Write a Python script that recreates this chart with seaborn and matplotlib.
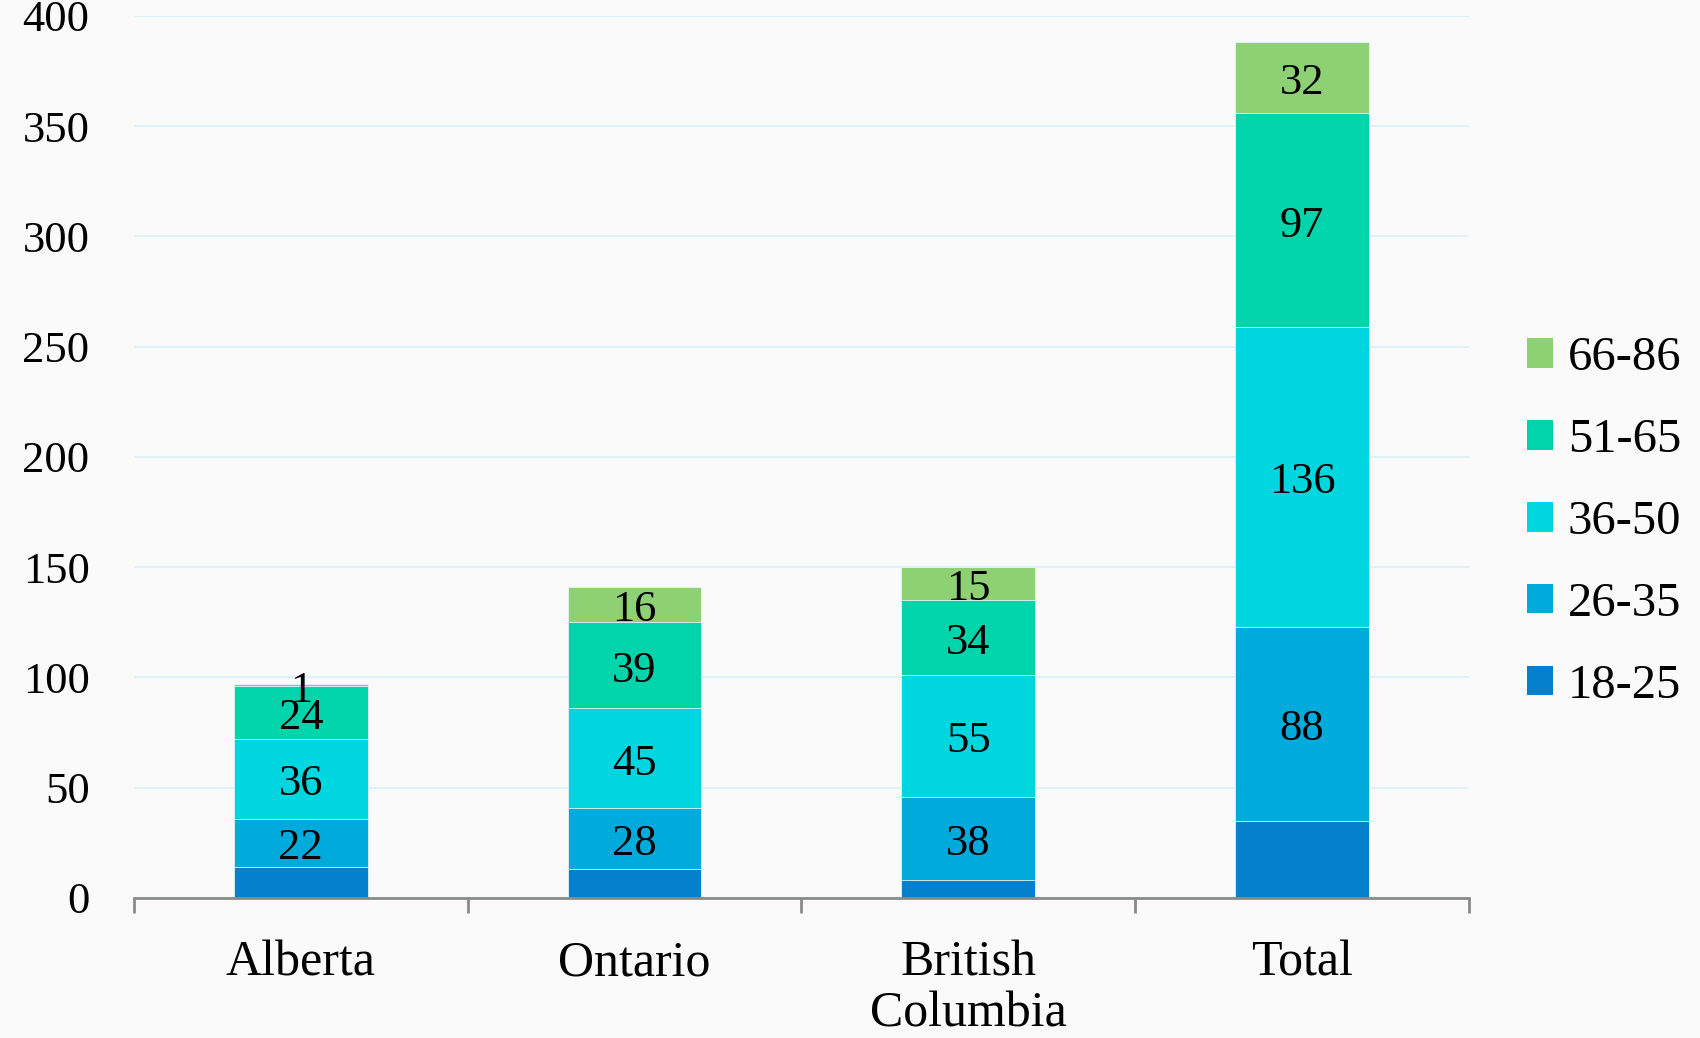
import matplotlib
matplotlib.use("Agg")
import matplotlib.pyplot as plt
import matplotlib.patches as mpatches
import numpy as np
import seaborn as sns

# Respondents by province and age group
regions = ["Alberta", "Ontario", "British\nColumbia", "Total"]
age_groups = ["18-25", "26-35", "36-50", "51-65", "66-86"]
age_18_25 = [14, 13, 8, 35]
age_26_35 = [22, 28, 38, 88]
age_36_50 = [36, 45, 55, 136]
age_51_65 = [24, 39, 34, 97]
age_66_86 = [1, 16, 15, 32]

colors = ["#0480cc", "#00aadb", "#00d6df", "#00d4aa", "#8ed174"]
labelled = [False, True, True, True, True]

series = [age_18_25, age_26_35, age_36_50, age_51_65, age_66_86]

sns.set_theme(style="white")
plt.rcParams["font.family"] = ["Liberation Serif", "DejaVu Serif"]

bg = "#fafafa"
fig = plt.figure(figsize=(17, 10.38), dpi=100, facecolor=bg)
ax = fig.add_axes([0.0788, 0.1349, 0.7852, 0.8497])
ax.set_facecolor(bg)

data = np.array(series, dtype=float)
cum = np.cumsum(data, axis=0)

# Stacked bars: draw cumulative heights from the top layer down
for i in range(len(series) - 1, -1, -1):
    sns.barplot(x=regions, y=cum[i], color=colors[i], saturation=1,
                width=0.4, ax=ax, edgecolor="#e6f5f8", linewidth=0.6,
                zorder=2)

# Segment value labels, centred in each segment
for i, vals in enumerate(series):
    if not labelled[i]:
        continue
    for j, v in enumerate(vals):
        center = cum[i][j] - v / 2.0
        ax.annotate(f"{v}", xy=(j, center), xytext=(0, -4),
                    textcoords="offset points", ha="center", va="center",
                    fontsize=32, color="black", zorder=5)

ax.set_xlim(-0.5, 3.5)
ax.set_ylim(0, 400)
ax.set_yticks(range(0, 401, 50))
ax.yaxis.grid(True, color="#dcf2f7", linewidth=1.5, zorder=0)
ax.set_axisbelow(True)
ax.set_xlabel("")
ax.set_ylabel("")

for side in ["left", "right", "top"]:
    ax.spines[side].set_visible(False)
ax.spines["bottom"].set_color("#8a8a8a")
ax.spines["bottom"].set_linewidth(2)

ax.tick_params(axis="y", length=0, pad=32, labelsize=32, labelcolor="black")
ax.tick_params(axis="x", which="major", bottom=True, length=0, pad=30,
               labelsize=36, labelcolor="black")
ax.set_xticks(np.arange(-0.5, 3.6, 1.0), minor=True)
ax.tick_params(axis="x", which="minor", bottom=True, length=11, width=2,
               color="#8a8a8a", direction="out")
for lab in ax.get_xticklabels():
    lab.set_linespacing(1.15)

handles = [mpatches.Patch(facecolor=colors[i], edgecolor="none", label=age_groups[i])
           for i in range(len(age_groups) - 1, -1, -1)]
fig.legend(handles=handles, loc="center left", bbox_to_anchor=(0.898, 0.497),
           frameon=False, fontsize=35, handlelength=0.55, handleheight=0.55,
           handletextpad=0.3, labelspacing=0.78, borderpad=0, borderaxespad=0,
           labelcolor="black")

fig.savefig("out.png", dpi=100, facecolor=bg)
